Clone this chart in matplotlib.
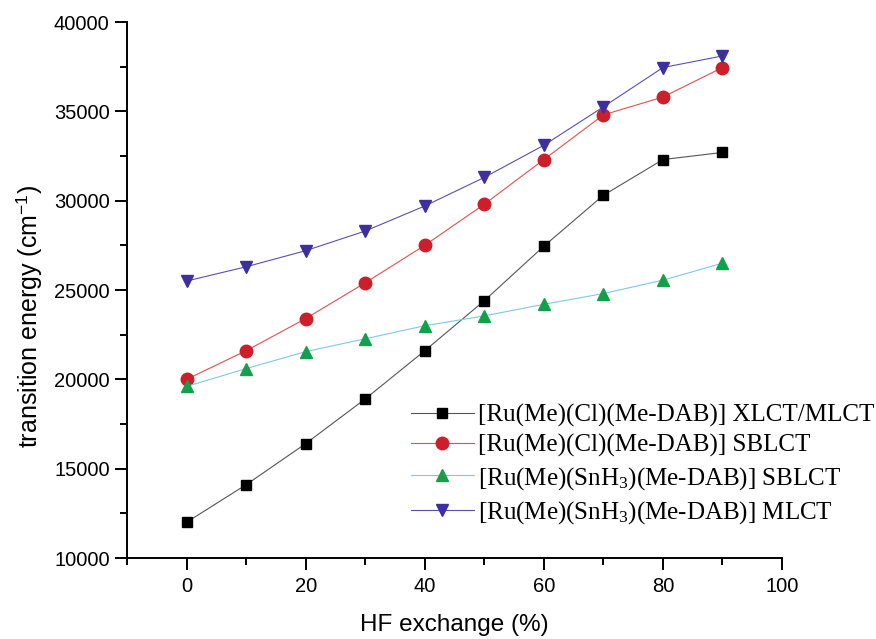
import numpy as np
import matplotlib
matplotlib.use("Agg")
import matplotlib.pyplot as plt
from matplotlib.ticker import MultipleLocator

plt.rcParams['font.family'] = ['Liberation Sans', 'DejaVu Sans']
plt.rcParams['mathtext.fontset'] = 'custom'
plt.rcParams['mathtext.rm'] = 'Liberation Serif'
plt.rcParams['mathtext.it'] = 'Liberation Serif:italic'

hf = [0, 10, 20, 30, 40, 50, 60, 70, 80, 90]

cl_xlct = [12000, 14100, 16400, 18900, 21600, 24400, 27450, 30300, 32300, 32700]
cl_sblct = [20000, 21600, 23400, 25400, 27500, 29800, 32300, 34800, 35800, 37450]
sn_sblct = [19600, 20600, 21550, 22270, 23000, 23550, 24200, 24800, 25550, 26500]
sn_mlct = [25500, 26300, 27200, 28300, 29700, 31300, 33100, 35250, 37450, 38100]

labels = [
    "[Ru(Me)(Cl)(Me-DAB)] XLCT/MLCT",
    "[Ru(Me)(Cl)(Me-DAB)] SBLCT",
    "[Ru(Me)(SnH$_3$)(Me-DAB)] SBLCT",
    "[Ru(Me)(SnH$_3$)(Me-DAB)] MLCT",
]

fig = plt.figure(figsize=(8.76, 6.39), dpi=100)
ax = fig.add_axes([127/876, 1-558/639, (782-127)/876, (558-22)/639])

ax.plot(hf, cl_xlct, color='#555555', lw=0.8, marker='s', ms=7,
        mfc='black', mec='black', label=labels[0])
ax.plot(hf, cl_sblct, color='#e05050', lw=0.8, marker='o', ms=9,
        mfc='#cc1f2a', mec='#cc1f2a', label=labels[1])
ax.plot(hf, sn_sblct, color='#7fc8e8', lw=0.8, marker='^', ms=9,
        mfc='#14a04a', mec='#14a04a', label=labels[2])
ax.plot(hf, sn_mlct, color='#5a4fb0', lw=0.8, marker='v', ms=9,
        mfc='#3d2f9e', mec='#3d2f9e', label=labels[3])

ax.set_xlim(-10, 100)
ax.set_ylim(10000, 40000)
ax.xaxis.set_major_locator(MultipleLocator(20))
ax.xaxis.set_minor_locator(MultipleLocator(10))
ax.yaxis.set_major_locator(MultipleLocator(5000))
ax.yaxis.set_minor_locator(MultipleLocator(2500))
ax.spines['top'].set_visible(False)
ax.spines['right'].set_visible(False)
ax.spines['left'].set_linewidth(1.4)
ax.spines['bottom'].set_linewidth(1.4)
ax.tick_params(which='major', direction='out', length=8.5, width=1.4, labelsize=14.5)
ax.tick_params(which='minor', direction='out', length=5, width=1.4)
ax.tick_params(axis='y', which='major', pad=4)
ax.tick_params(axis='x', which='major', pad=5)

ax.set_xlabel("HF exchange (%)", fontsize=17.5)
ax.set_ylabel("transition energy (cm$^{\\mathregular{-1}}$)", fontsize=18)
ax.xaxis.set_label_coords(0.5, -0.104)
ax.yaxis.set_label_coords(-0.127, 0.451)

leg = fig.legend(loc='lower left', bbox_to_anchor=(411/876, 1-526/639),
                 frameon=False, borderpad=0, borderaxespad=0,
                 handlelength=2.5, handletextpad=0.2, labelspacing=0.3,
                 prop={'family': 'Liberation Serif', 'size': 18})

fig.savefig("out.png", dpi=100)
